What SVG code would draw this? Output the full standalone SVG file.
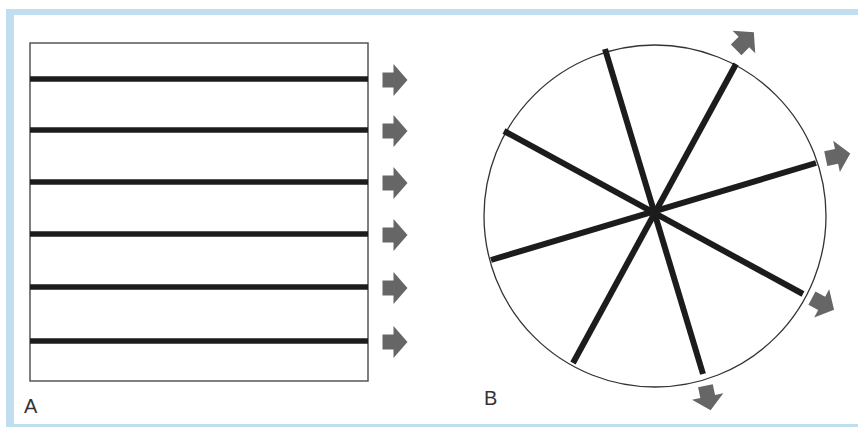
<svg xmlns="http://www.w3.org/2000/svg" width="858" height="427" viewBox="0 0 858 427">
<defs>
<style>
.frame{fill:#c0deef}
.bar{stroke:#1c1c1c;stroke-width:5.5;fill:none}
.spoke{stroke:#1c1c1c;stroke-width:6;fill:none;stroke-linecap:butt}
.arr{fill:#666}
.lbl{font-family:"Liberation Sans",Arial,sans-serif;font-size:20px;fill:#333}
</style>
<path id="arrow" d="M-12.5,-7.5 H-1.5 V-16 L12.5,0 L-1.5,16 V7.5 H-12.5 Z"/>
</defs>
<rect width="858" height="427" fill="#fff"/>
<rect class="frame" x="6" y="9" width="852" height="6"/>
<rect class="frame" x="6" y="9" width="8" height="418"/>
<rect class="frame" x="6" y="424" width="852" height="3"/>

<g id="panelA">
<rect x="30" y="43" width="338" height="338" fill="#fff" stroke="#555" stroke-width="1.5"/>
<g id="barsA">
<line class="bar" x1="30" y1="79" x2="368" y2="79"/>
<line class="bar" x1="30" y1="130" x2="368" y2="130"/>
<line class="bar" x1="30" y1="182" x2="368" y2="182"/>
<line class="bar" x1="30" y1="234" x2="368" y2="234"/>
<line class="bar" x1="30" y1="287" x2="368" y2="287"/>
<line class="bar" x1="30" y1="341" x2="368" y2="341"/>
</g>
<g id="arrowsA" class="arr">
<use href="#arrow" transform="translate(395,80)"/>
<use href="#arrow" transform="translate(395,131)"/>
<use href="#arrow" transform="translate(395,183)"/>
<use href="#arrow" transform="translate(395,235)"/>
<use href="#arrow" transform="translate(395,288)"/>
<use href="#arrow" transform="translate(395,342)"/>
</g>
<text class="lbl" x="24" y="413">A</text>
</g>

<g id="panelB">
<circle cx="655" cy="216" r="171" fill="#fff" stroke="#333" stroke-width="1.3"/>
<g id="spokesB">
<line class="spoke" x1="605" y1="49" x2="703" y2="374"/>
<line class="spoke" x1="736" y1="64" x2="573" y2="363"/>
<line class="spoke" x1="816" y1="163" x2="491" y2="260"/>
<line class="spoke" x1="803" y1="294" x2="504" y2="131"/>
</g>
<g id="arrowsB" class="arr">
<use href="#arrow" transform="translate(745,41) rotate(-45)"/>
<use href="#arrow" transform="translate(838,156) rotate(-12)"/>
<use href="#arrow" transform="translate(823,304) rotate(28)"/>
<use href="#arrow" transform="translate(708,398) rotate(78)"/>
</g>
<text class="lbl" x="484" y="405">B</text>
</g>
</svg>
